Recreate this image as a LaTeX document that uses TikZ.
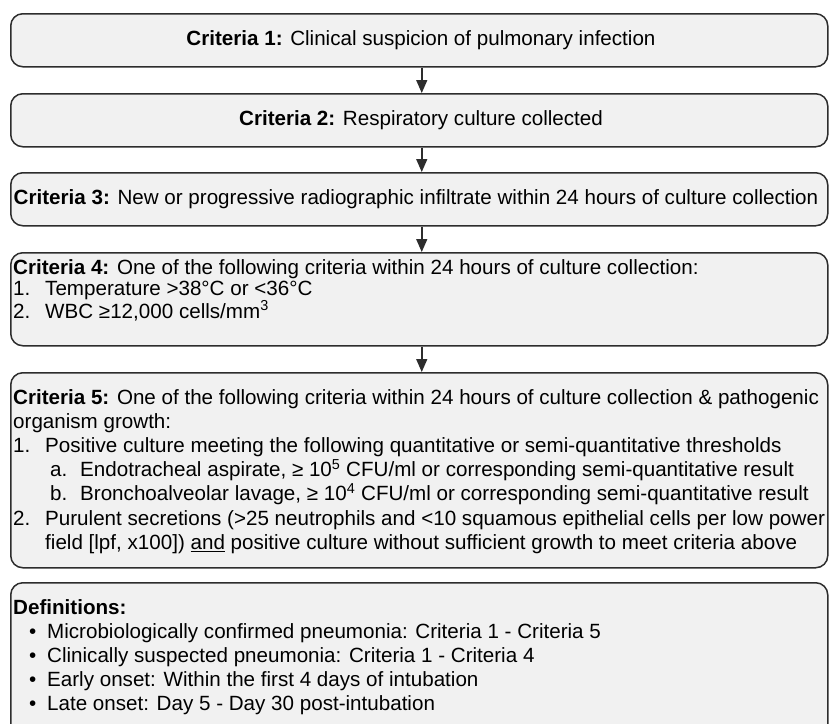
\documentclass[tikz,border=0pt]{standalone}
\usepackage{fontspec}
\setmainfont{Liberation Sans}
\usetikzlibrary{arrows.meta}
\definecolor{boxfill}{RGB}{241,241,241}
\definecolor{boxline}{RGB}{45,45,45}
\begin{document}
\begin{tikzpicture}[x=1pt,y=-1pt,
  crit/.style={draw=boxline, line width=1.5pt, fill=boxfill, rounded corners=12pt,
    minimum width=817pt, anchor=north west, inner sep=0pt},
  one/.style={inner sep=0pt, font=\fontsize{20.6}{24}\selectfont, anchor=center},
  multi/.style={inner sep=0pt, font=\fontsize{20.6}{24.2}\selectfont, align=left, anchor=north west},
  flow/.style={draw=boxline, line width=1.5pt, -{Triangle[width=11pt,length=13pt]}}]
\useasboundingbox (0,0) rectangle (829,723);
\clip (0,0) rectangle (829,723);
\node[crit, minimum height=53pt] (b1) at (10,13) {};
\node[crit, minimum height=53pt] (b2) at (10,93) {};
\node[crit, minimum height=53pt] (b3) at (10,172) {};
\node[crit, minimum height=93pt] (b4) at (10,252) {};
\node[crit, minimum height=195pt] (b5) at (10,372) {};
\node[crit, minimum height=170pt] (b6) at (10,582) {};

\node[one] (t1) at (421,40) {\textbf{Criteria 1:} Clinical suspicion of pulmonary infection};
\node[one] (t2) at (421,120) {\textbf{Criteria 2:} Respiratory culture collected};
\node[one] (t3) at (416,199) {\textbf{Criteria 3:} New or progressive radiographic infiltrate within 24 hours of culture collection};
\node[multi, font=\fontsize{20.6}{21}\selectfont] (t4) at (13,259) {\textbf{Criteria 4:} One of the following criteria within 24 hours of culture collection:\\
\makebox[32pt][l]{1.}Temperature >38°C or <36°C\\
\makebox[32pt][l]{2.}WBC ≥12,000 cells/mm\textsuperscript{3}};
\node[multi] (t5) at (13,389) {\textbf{Criteria 5:} One of the following criteria within 24 hours of culture collection \& pathogenic\\
organism growth:\\
\makebox[32pt][l]{1.}Positive culture meeting the following quantitative or semi-quantitative thresholds\\
\hspace*{37pt}\makebox[30pt][l]{a.}Endotracheal aspirate, ≥ 10\textsuperscript{5} CFU/ml or corresponding semi-quantitative result\\
\hspace*{37pt}\makebox[30pt][l]{b.}Bronchoalveolar lavage, ≥ 10\textsuperscript{4} CFU/ml or corresponding semi-quantitative result\\
\makebox[32pt][l]{2.}Purulent secretions (>25 neutrophils and <10 squamous epithelial cells per low power\\
\hspace*{32pt}field [lpf, x100]) \underline{and} positive culture without sufficient growth to meet criteria above};
\node[multi] (t6) at (13,599) {\textbf{Definitions:}\\
\hspace*{16pt}\makebox[18pt][l]{•}Microbiologically confirmed pneumonia: Criteria 1 - Criteria 5\\
\hspace*{16pt}\makebox[18pt][l]{•}Clinically suspected pneumonia: Criteria 1 - Criteria 4\\
\hspace*{16pt}\makebox[18pt][l]{•}Early onset: Within the first 4 days of intubation\\
\hspace*{16pt}\makebox[18pt][l]{•}Late onset: Day 5 - Day 30 post-intubation};

\draw[flow] ([xshift=2.5pt]b1.south) -- ([xshift=2.5pt]b2.north);
\draw[flow] ([xshift=2.5pt]b2.south) -- ([xshift=2.5pt]b3.north);
\draw[flow] ([xshift=2.5pt]b3.south) -- ([xshift=2.5pt]b4.north);
\draw[flow] ([xshift=2.5pt]b4.south) -- ([xshift=2.5pt]b5.north);
\end{tikzpicture}
\end{document}
